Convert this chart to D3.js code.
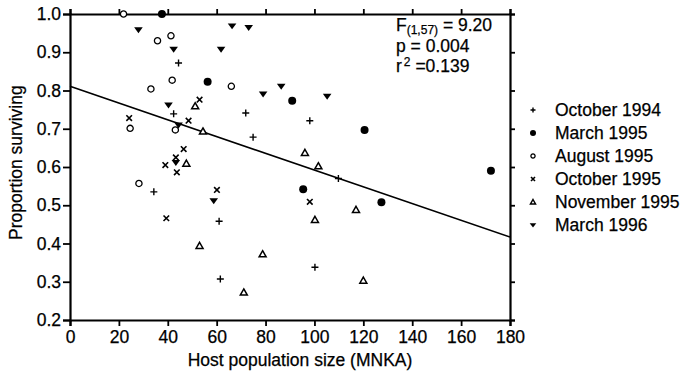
<!DOCTYPE html>
<html>
<head>
<meta charset="utf-8">
<script src="https://cdn.jsdelivr.net/npm/d3@7/dist/d3.min.js"></script>
<style>
  body { margin: 0; background: #fff; }
  text { font-family: "Liberation Sans", Arial, Helvetica, sans-serif; fill: #000; stroke: #000; stroke-width: 0.25px; }
</style>
</head>
<body>
<div id="chart"></div>
<script>
// survival data by sampling date: [host population size, proportion surviving]
const oct1994 = [[44.4,0.872],[42.4,0.739],[71.9,0.741],[74.9,0.678],[98.1,0.721],[34.3,0.535],[61.0,0.458],[61.5,0.307],[109.8,0.570],[100.2,0.338]];
const mar1995 = [[37.6,1.0],[56.3,0.823],[90.9,0.773],[120.5,0.697],[172.2,0.590],[95.4,0.542],[127.4,0.508]];
const aug1995 = [[21.9,1.0],[35.8,0.930],[41.3,0.943],[41.8,0.827],[66.0,0.811],[33.1,0.804],[24.6,0.701],[43.1,0.697],[28.2,0.557]];
const oct1995 = [[53.0,0.776],[24.2,0.728],[48.5,0.721],[46.5,0.647],[43.3,0.625],[39.0,0.605],[43.7,0.586],[60.1,0.540],[39.4,0.466],[98.1,0.509]];
const nov1995 = [[51.2,0.759],[54.4,0.693],[47.6,0.609],[96.1,0.637],[101.6,0.602],[53.0,0.394],[78.8,0.372],[71.1,0.272],[117.0,0.488],[100.2,0.462],[120.0,0.303]];
const mar1996 = [[28.0,0.959],[42.4,0.908],[66.3,0.969],[73.1,0.965],[61.8,0.908],[79.0,0.791],[86.4,0.811],[105.2,0.785],[40.3,0.762],[44.4,0.710],[43.3,0.612],[58.8,0.512]];

const seriesNames = ['October 1994', 'March 1995', 'August 1995', 'October 1995', 'November 1995', 'March 1996'];
const seriesMarks = ['plus', 'dot', 'ring', 'cross', 'triUp', 'triDown'];
const seriesData = [oct1994, mar1995, aug1995, oct1995, nov1995, mar1996];

// fitted regression line
const fitIntercept = 0.811;
const fitSlope = -0.00219;
const statLines = ['F', 'p = 0.004', 'r'];

const xTicks = [0, 20, 40, 60, 80, 100, 120, 140, 160, 180];
const yTicks = [0.2, 0.3, 0.4, 0.5, 0.6, 0.7, 0.8, 0.9, 1.0];

const width = 685, height = 376;
const margin = { top: 14, right: 175, bottom: 56, left: 70 };

const svg = d3.select('#chart').append('svg')
  .attr('width', width)
  .attr('height', height);

const x = d3.scaleLinear().domain([0, 180]).range([margin.left, width - margin.right]);
const y = d3.scaleLinear().domain([0.2, 1.0]).range([height - margin.bottom, margin.top]);

const fontSize = '17.5px';

function styleAxis(g) {
  g.select('.domain').attr('stroke', '#000').attr('stroke-width', 2.2);
  g.selectAll('.tick line').attr('stroke', '#000').attr('stroke-width', 1.8);
  g.selectAll('.tick text').style('font-size', fontSize).attr('fill', '#000');
}

svg.append('g')
  .attr('transform', `translate(0,${y(0.2)})`)
  .call(d3.axisBottom(x).tickValues(xTicks).tickSizeOuter(0).tickSize(6).tickPadding(5).tickFormat(d3.format('d')))
  .call(styleAxis);

svg.append('g')
  .attr('transform', `translate(0,${y(1.0)})`)
  .call(d3.axisTop(x).tickValues(xTicks).tickSizeOuter(0).tickSize(5).tickFormat(''))
  .call(styleAxis);

svg.append('g')
  .attr('transform', `translate(${x(0)},0)`)
  .call(d3.axisLeft(y).tickValues(yTicks).tickSizeOuter(0).tickSize(7).tickPadding(2).tickFormat(d3.format('.1f')))
  .call(styleAxis);

svg.append('g')
  .attr('transform', `translate(${x(180)},0)`)
  .call(d3.axisRight(y).tickValues(yTicks).tickSizeOuter(0).tickSize(5).tickFormat(''))
  .call(styleAxis);

// axis titles
svg.append('text')
  .attr('x', 300)
  .attr('y', 366)
  .attr('text-anchor', 'middle')
  .style('font-size', fontSize)
  .text('Host population size (MNKA)');

svg.append('text')
  .attr('transform', 'translate(22,240) rotate(-90)')
  .attr('text-anchor', 'start')
  .style('font-size', fontSize)
  .text('Proportion surviving');

// regression line
svg.append('line')
  .attr('x1', x(0)).attr('y1', y(fitIntercept))
  .attr('x2', x(180)).attr('y2', y(fitIntercept + fitSlope * 180))
  .attr('stroke', '#000')
  .attr('stroke-width', 1.6);

// marker drawing
function drawMark(g, kind, s) {
  const h = s / 2;
  if (kind === 'plus') {
    g.append('path').attr('d', `M${-h},0H${h}M0,${-h}V${h}`).attr('stroke', '#000').attr('stroke-width', 1.4).attr('fill', 'none');
  } else if (kind === 'cross') {
    const c = h * 0.8;
    g.append('path').attr('d', `M${-c},${-c}L${c},${c}M${-c},${c}L${c},${-c}`).attr('stroke', '#000').attr('stroke-width', 1.6).attr('fill', 'none');
  } else if (kind === 'dot') {
    g.append('circle').attr('r', h + 0.5).attr('fill', '#000');
  } else if (kind === 'ring') {
    g.append('circle').attr('r', h - 0.4).attr('fill', '#fff').attr('stroke', '#000').attr('stroke-width', 1.3);
  } else if (kind === 'triUp') {
    g.append('path').attr('d', `M0,${-h}L${h},${h * 0.75}L${-h},${h * 0.75}Z`).attr('fill', '#fff').attr('stroke', '#000').attr('stroke-width', 1.5);
  } else if (kind === 'triDown') {
    g.append('path').attr('d', `M${-h - 0.8},${-h * 0.7}L${h + 0.8},${-h * 0.7}L0,${h}Z`).attr('fill', '#000');
  }
}

seriesData.forEach((data, i) => {
  const kind = seriesMarks[i];
  svg.append('g').selectAll('g')
    .data(data)
    .enter().append('g')
    .attr('transform', d => `translate(${x(d[0])},${y(d[1])})`)
    .each(function () { drawMark(d3.select(this), kind, 7); });
});

// legend
const legend = svg.append('g').attr('transform', 'translate(533,110)');
seriesNames.forEach((name, i) => {
  const row = legend.append('g').attr('transform', `translate(0,${i * 23})`);
  drawMark(row, seriesMarks[i], 5);
  row.append('text')
    .attr('x', 22)
    .attr('dy', '0.36em')
    .style('font-size', '17.5px')
    .text(name);
});

// statistics
const stats = svg.append('g').attr('transform', 'translate(396,31)');
const f = stats.append('text').style('font-size', fontSize);
f.append('tspan').text(statLines[0]);
f.append('tspan').attr('dy', 2.5).style('font-size', '12px').text('(1,57)');
f.append('tspan').attr('dy', -2.5).text(' = 9.20');
stats.append('text').attr('y', 21).style('font-size', fontSize).text(statLines[1]);
const r = stats.append('text').attr('y', 41).style('font-size', fontSize);
r.append('tspan').text(statLines[2]);
r.append('tspan').attr('dy', -6).attr('dx', 2).style('font-size', '12px').text('2');
r.append('tspan').attr('dy', 6).text(' =0.139');
</script>
</body>
</html>
